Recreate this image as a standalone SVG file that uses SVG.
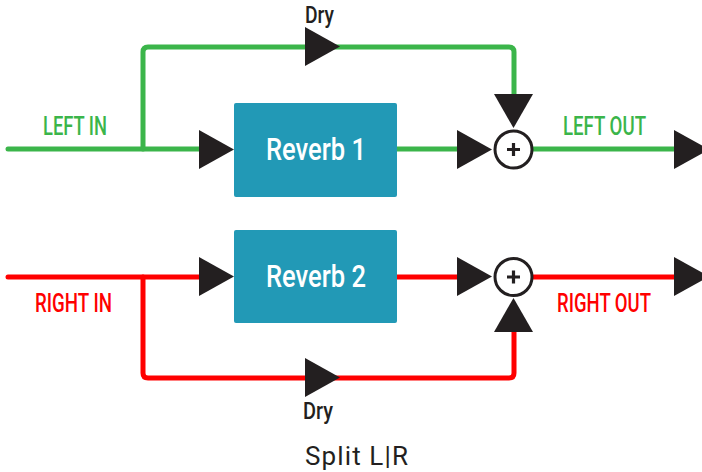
<svg xmlns="http://www.w3.org/2000/svg" width="702" height="472" viewBox="0 0 702 472">
<style>
.g{fill:none;stroke:#3bb54a;stroke-width:5;stroke-linecap:round;stroke-linejoin:round}
.r{fill:none;stroke:#ff0000;stroke-width:5;stroke-linecap:round;stroke-linejoin:round}
.a{fill:#231f20}
.box{fill:#2299b6}
.bt{fill:#fff;font-family:Roboto,"Liberation Sans",sans-serif;font-size:32px;font-weight:500}
.lg{fill:#3bb54a;font-family:Roboto,"Liberation Sans",sans-serif;font-size:25px;font-weight:500}
.lr{fill:#ff0000;font-family:Roboto,"Liberation Sans",sans-serif;font-size:25px;font-weight:500}
.d{fill:#231f20;font-family:Roboto,"Liberation Sans",sans-serif;font-size:23px;font-weight:500}
.sum{fill:#fff;stroke:#231f20;stroke-width:3}
.plus{stroke:#231f20;stroke-width:3.2;fill:none}
</style>
<g id="connectors">
<path class="g" d="M8,149 H210"/>
<path class="g" d="M397,149 H470"/>
<path class="g" d="M533,149 H690"/>
<path class="g" d="M143,149 V52 Q143,47 148,47 H509 Q514,47 514,52 V100"/>
<path class="r" d="M8,277 H210"/>
<path class="r" d="M397,277 H470"/>
<path class="r" d="M533,277 H690"/>
<path class="r" d="M143,277 V373 Q143,378 148,378 H509 Q514,378 514,373 V320"/>
<polygon class="a" points="199,130 199,169 234,149.5"/>
<polygon class="a" points="457,130 457,169 492,149.5"/>
<polygon class="a" points="674,130 674,169 709,149.5"/>
<polygon class="a" points="305,27 305,66 340,46.5"/>
<polygon class="a" points="494,94 533,94 513.5,128"/>
<polygon class="a" points="199,257 199,296 234,276.5"/>
<polygon class="a" points="457,257 457,296 492,276.5"/>
<polygon class="a" points="674,257 674,296 709,276.5"/>
<polygon class="a" points="305,358 305,397 340,377.5"/>
<polygon class="a" points="494,332 533,332 513.5,298"/>
</g>
<g id="reverb1">
<rect class="box" x="234" y="103" width="163" height="94" rx="2"/>
<text class="bt" x="316" y="160" text-anchor="middle" textLength="100" lengthAdjust="spacingAndGlyphs">Reverb 1</text>
</g>
<g id="reverb2">
<rect class="box" x="234" y="230" width="163" height="93" rx="2"/>
<text class="bt" x="316" y="287" text-anchor="middle" textLength="100" lengthAdjust="spacingAndGlyphs">Reverb 2</text>
</g>
<g id="sum1">
<circle class="sum" cx="513.5" cy="149.5" r="18.5"/>
<path class="plus" d="M507,149.5 H520 M513.5,143 V156"/>
</g>
<g id="sum2">
<circle class="sum" cx="513.5" cy="277" r="18.5"/>
<path class="plus" d="M507,277 H520 M513.5,270.5 V283.5"/>
</g>
<g id="labels">
<text class="lg" x="43" y="135" textLength="64" lengthAdjust="spacingAndGlyphs">LEFT IN</text>
<text class="lg" x="563" y="135" textLength="83" lengthAdjust="spacingAndGlyphs">LEFT OUT</text>
<text class="lr" x="35" y="312" textLength="77" lengthAdjust="spacingAndGlyphs">RIGHT IN</text>
<text class="lr" x="557" y="312" textLength="94" lengthAdjust="spacingAndGlyphs">RIGHT OUT</text>
<text class="d" x="305" y="23" textLength="29" lengthAdjust="spacingAndGlyphs">Dry</text>
<text class="d" x="303" y="419" textLength="30" lengthAdjust="spacingAndGlyphs">Dry</text>
<text class="d" x="305" y="465" textLength="103" lengthAdjust="spacing" style="font-size:26px;font-weight:400">Split L|R</text>
</g>
</svg>
